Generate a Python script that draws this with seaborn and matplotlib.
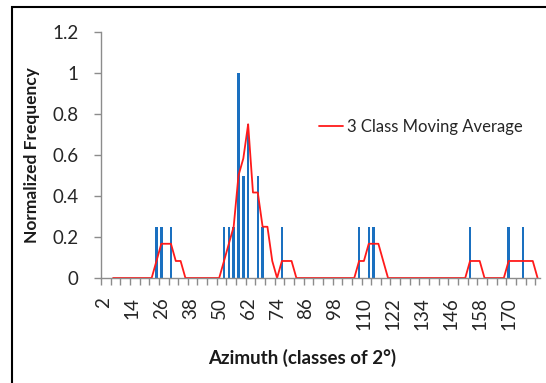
import numpy as np
import pandas as pd
import matplotlib
matplotlib.use("Agg")
import matplotlib.pyplot as plt
import seaborn as sns
from matplotlib.patches import Rectangle

# ---- data ----
classes = list(range(2, 184, 2))  # azimuth classes of 2 degrees

freq = [
    0, 0, 0, 0, 0, 0, 0, 0, 0, 0,
    0, 0.25, 0.25, 0, 0.25, 0, 0, 0, 0, 0,
    0, 0, 0, 0, 0, 0.25, 0.25, 0.25, 1.0, 0.5,
    0.75, 0, 0.5, 0.25, 0, 0, 0, 0.25, 0, 0,
    0, 0, 0, 0, 0, 0, 0, 0, 0, 0,
    0, 0, 0, 0.25, 0, 0.25, 0.25, 0, 0, 0,
    0, 0, 0, 0, 0, 0, 0, 0, 0, 0,
    0, 0, 0, 0, 0, 0, 0.25, 0, 0, 0,
    0, 0, 0, 0, 0.25, 0, 0, 0.25, 0, 0,
    0,
]

ma_start_class = 6  # first class with a moving-average value
moving_avg = [
    0, 0, 0, 0, 0, 0, 0, 0, 0,
    0.083, 0.167, 0.167, 0.167, 0.083, 0.083,
    0, 0, 0, 0, 0, 0, 0, 0,
    0.083, 0.167, 0.25, 0.5, 0.583, 0.75, 0.417, 0.417, 0.25, 0.25, 0.083, 0, 0.083, 0.083, 0.083,
    0, 0, 0, 0, 0, 0, 0, 0, 0, 0, 0, 0, 0,
    0.083, 0.083, 0.167, 0.167, 0.167, 0.083,
    0, 0, 0, 0, 0, 0, 0, 0, 0, 0, 0, 0, 0, 0, 0, 0, 0,
    0.083, 0.083, 0.083,
    0, 0, 0, 0, 0,
    0.083, 0.083, 0.083, 0.083, 0.083, 0.083,
    0,
]

xtick_labels = ['2', '14', '26', '38', '50', '62', '74', '86', '98',
                '110', '122', '134', '146', '158', '170']
ytick_vals = [0, 0.2, 0.4, 0.6, 0.8, 1.0, 1.2]
ytick_labels = ['0', '0.2', '0.4', '0.6', '0.8', '1', '1.2']

legend_label = '3 Class Moving Average'
xlabel = 'Azimuth (classes of 2°)'
ylabel = 'Normalized Frequency'

# ---- style ----
sns.set_theme(style='white')
plt.rcParams['font.family'] = ['Lato', 'DejaVu Sans']

W, H = 546, 383
fig = plt.figure(figsize=(W / 100, H / 100), dpi=100)
ax = fig.add_axes([101 / W, 1 - 278 / H, (540 - 101) / W, (278 - 32) / H])

cls_str = [str(c) for c in classes]
df = pd.DataFrame({'cls': cls_str, 'freq': freq})
sns.barplot(data=df, x='cls', y='freq', order=cls_str, color='#1a70c0',
            saturation=1, width=0.5, linewidth=0, ax=ax)

start_idx = classes.index(ma_start_class)
df_ma = pd.DataFrame({'pos': np.arange(start_idx, start_idx + len(moving_avg)),
                      'ma': moving_avg})
sns.lineplot(data=df_ma, x='pos', y='ma', color='#ff1a1a', linewidth=1.3,
             ax=ax, label=legend_label, estimator=None)

ax.set_xlim(-0.5, len(classes) - 0.5)
ax.set_ylim(0, 1.2)

tick_pos = [classes.index(int(t)) for t in xtick_labels]
ax.set_xticks(tick_pos)
ax.set_xticklabels(xtick_labels, rotation=90, fontsize=13.5, color='#262626')
ax.set_xticks(np.arange(-0.5, len(classes), 2), minor=True)
ax.tick_params(axis='x', which='major', length=0, pad=14)
ax.tick_params(axis='x', which='minor', length=5, width=1, color='#8c8c8c', bottom=True)

ax.set_yticks(ytick_vals)
ax.set_yticklabels(ytick_labels, fontsize=13.5, color='#262626')
ax.tick_params(axis='y', length=5, width=1, color='#8c8c8c', left=True, pad=11)

for s in ['top', 'right']:
    ax.spines[s].set_visible(False)
for s in ['left', 'bottom']:
    ax.spines[s].set_color('#8c8c8c')
    ax.spines[s].set_linewidth(1)

ax.set_xlabel('')
ax.set_ylabel(ylabel, fontsize=12.5, fontweight='bold', color='#1a1a1a')
ax.yaxis.set_label_coords(-0.139, 0.5)

fig.text(302 / W, 1 - 358 / H, xlabel, ha='center', va='center',
         fontsize=13.5, fontweight='bold', color='#1a1a1a')

ax.legend(loc='center left', bbox_to_anchor=(319 / W, 1 - 127 / H),
          bbox_transform=fig.transFigure, frameon=False, fontsize=12,
          handlelength=1.45, handletextpad=0.25, borderpad=0, borderaxespad=0)

fig.patches.append(Rectangle((12 / W, -0.1), 1.2, 1.1 - 7 / H,
                             transform=fig.transFigure, fill=False,
                             edgecolor='black', linewidth=1.5))

fig.savefig('out.png', dpi=100)
